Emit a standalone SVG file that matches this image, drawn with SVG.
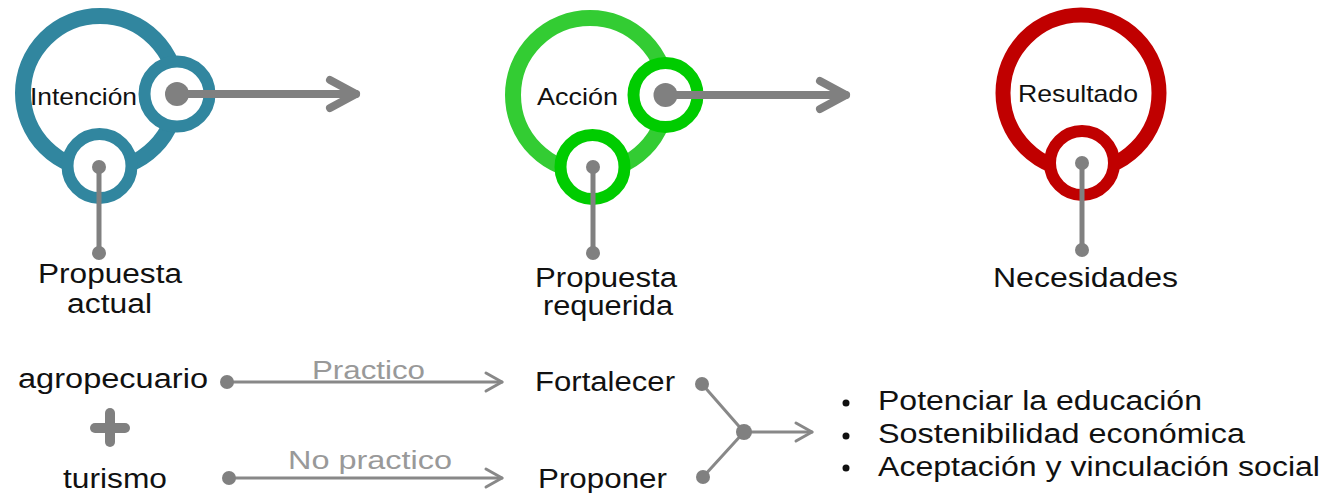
<svg xmlns="http://www.w3.org/2000/svg" width="1335" height="493" viewBox="0 0 1335 493">
<style>
  text { font-family: "Liberation Sans", Arial, sans-serif; fill: #111111; }
  .in { font-size: 24px; }
  .lbl { font-size: 27px; }
  .gray { font-size: 25px; fill: #999999; }
  .ring { fill: none; }
  .sm { fill: #ffffff; stroke-width: 12; }
  .teal { stroke: #31869F; }
  .lgreen { stroke: #33CC33; }
  .green { stroke: #00CC00; }
  .red { stroke: #C00000; }
  .thick { stroke: #808080; stroke-width: 8; fill: none; stroke-linecap: round; stroke-linejoin: round; }
  .stem { stroke: #808080; stroke-width: 5; fill: none; }
  .thin { stroke: #888888; stroke-width: 3; fill: none; stroke-linecap: round; stroke-linejoin: round; }
  .dot { fill: #808080; }
</style>

<g id="intencion">
  <circle class="ring teal" cx="100" cy="93" r="77" stroke-width="16"/>
  <circle class="sm teal" cx="99.5" cy="166" r="32"/>
  <circle class="sm teal" cx="177" cy="94" r="32.5" stroke-width="13"/>
  <text class="in" x="30" y="105" textLength="107" lengthAdjust="spacingAndGlyphs">Intención</text>
</g>

<g id="accion">
  <circle class="ring lgreen" cx="590" cy="95" r="77" stroke-width="16"/>
  <circle class="sm green" cx="592.5" cy="167" r="32"/>
  <circle class="sm green" cx="665.5" cy="95" r="32"/>
  <text class="in" x="537" y="105" textLength="81" lengthAdjust="spacingAndGlyphs">Acción</text>
</g>

<g id="resultado">
  <circle class="ring red" cx="1081" cy="93" r="78" stroke-width="15"/>
  <circle class="sm red" cx="1082" cy="163" r="32"/>
  <text class="in" x="1018" y="102" textLength="120" lengthAdjust="spacingAndGlyphs">Resultado</text>
</g>

<g id="propuesta-actual">
  <text class="lbl" x="38" y="283" textLength="144" lengthAdjust="spacingAndGlyphs">Propuesta</text>
  <text class="lbl" x="67" y="313" textLength="85" lengthAdjust="spacingAndGlyphs">actual</text>
</g>

<g id="propuesta-requerida">
  <text class="lbl" x="535" y="287" textLength="142" lengthAdjust="spacingAndGlyphs">Propuesta</text>
  <text class="lbl" x="543" y="315" textLength="130" lengthAdjust="spacingAndGlyphs">requerida</text>
</g>

<g id="necesidades">
  <text class="lbl" x="993" y="287" textLength="185" lengthAdjust="spacingAndGlyphs">Necesidades</text>
</g>

<g id="agropecuario">
  <text class="lbl" x="18" y="388" textLength="190" lengthAdjust="spacingAndGlyphs">agropecuario</text>
</g>

<g id="plus">
  <line x1="95" y1="428" x2="125" y2="428" stroke="#808080" stroke-width="10" stroke-linecap="round"/>
  <line x1="110" y1="413" x2="110" y2="442" stroke="#808080" stroke-width="10" stroke-linecap="round"/>
</g>

<g id="turismo">
  <text class="lbl" x="63" y="488" textLength="104" lengthAdjust="spacingAndGlyphs">turismo</text>
</g>

<g id="fortalecer">
  <text class="lbl" x="535" y="391" textLength="140" lengthAdjust="spacingAndGlyphs">Fortalecer</text>
</g>

<g id="proponer">
  <text class="lbl" x="538" y="488" textLength="129" lengthAdjust="spacingAndGlyphs">Proponer</text>
</g>

<g id="resultados-lista">
  <circle class="dot" cx="846" cy="403" r="3.5" fill="#111111" style="fill:#111111"/>
  <circle class="dot" cx="846" cy="436" r="3.5" style="fill:#111111"/>
  <circle class="dot" cx="846" cy="468" r="3.5" style="fill:#111111"/>
  <text class="lbl" x="878" y="410" textLength="324" lengthAdjust="spacingAndGlyphs">Potenciar la educación</text>
  <text class="lbl" x="878" y="443" textLength="367" lengthAdjust="spacingAndGlyphs">Sostenibilidad económica</text>
  <text class="lbl" x="878" y="476" textLength="442" lengthAdjust="spacingAndGlyphs">Aceptación y vinculación social</text>
</g>

<g id="connectors">
  <!-- Intención -->
  <line class="stem" x1="99" y1="167" x2="99" y2="253"/>
  <circle class="dot" cx="99" cy="167" r="7"/>
  <circle class="dot" cx="99" cy="253" r="7"/>
  <line class="thick" x1="177" y1="94" x2="356" y2="94"/>
  <path class="thick" d="M330,80 L356,94 L330,108" stroke-width="9"/>
  <circle class="dot" cx="177" cy="94" r="12"/>
  <!-- Acción -->
  <line class="stem" x1="593" y1="167" x2="593" y2="253"/>
  <circle class="dot" cx="593" cy="167" r="7"/>
  <circle class="dot" cx="593" cy="253" r="7"/>
  <line class="thick" x1="665.5" y1="95" x2="846" y2="95"/>
  <path class="thick" d="M820,81 L846,95 L820,109" stroke-width="9"/>
  <circle class="dot" cx="665.5" cy="95" r="12"/>
  <!-- Resultado -->
  <line class="stem" x1="1082" y1="163" x2="1082" y2="250"/>
  <circle class="dot" cx="1082" cy="163" r="7"/>
  <circle class="dot" cx="1082" cy="250" r="7"/>
  <!-- Practico -->
  <line class="thin" x1="227" y1="382" x2="502" y2="382"/>
  <path class="thin" d="M486,373 L502,382 L486,391"/>
  <circle class="dot" cx="227" cy="382" r="7"/>
  <text class="gray" x="312" y="379" textLength="113" lengthAdjust="spacingAndGlyphs">Practico</text>
  <!-- No practico -->
  <line class="thin" x1="229" y1="478" x2="502" y2="478"/>
  <path class="thin" d="M486,469 L502,478 L486,487"/>
  <circle class="dot" cx="229" cy="478" r="7"/>
  <text class="gray" x="288" y="469" textLength="164" lengthAdjust="spacingAndGlyphs">No practico</text>
  <!-- merge -->
  <line class="thin" x1="702" y1="384" x2="744" y2="432"/>
  <line class="thin" x1="703" y1="477" x2="744" y2="432"/>
  <line class="thin" x1="744" y1="432" x2="812" y2="432"/>
  <path class="thin" d="M796,423 L812,432 L796,441"/>
  <circle class="dot" cx="702" cy="384" r="7"/>
  <circle class="dot" cx="703" cy="477" r="7"/>
  <circle class="dot" cx="744" cy="432" r="8"/>
</g>
</svg>
